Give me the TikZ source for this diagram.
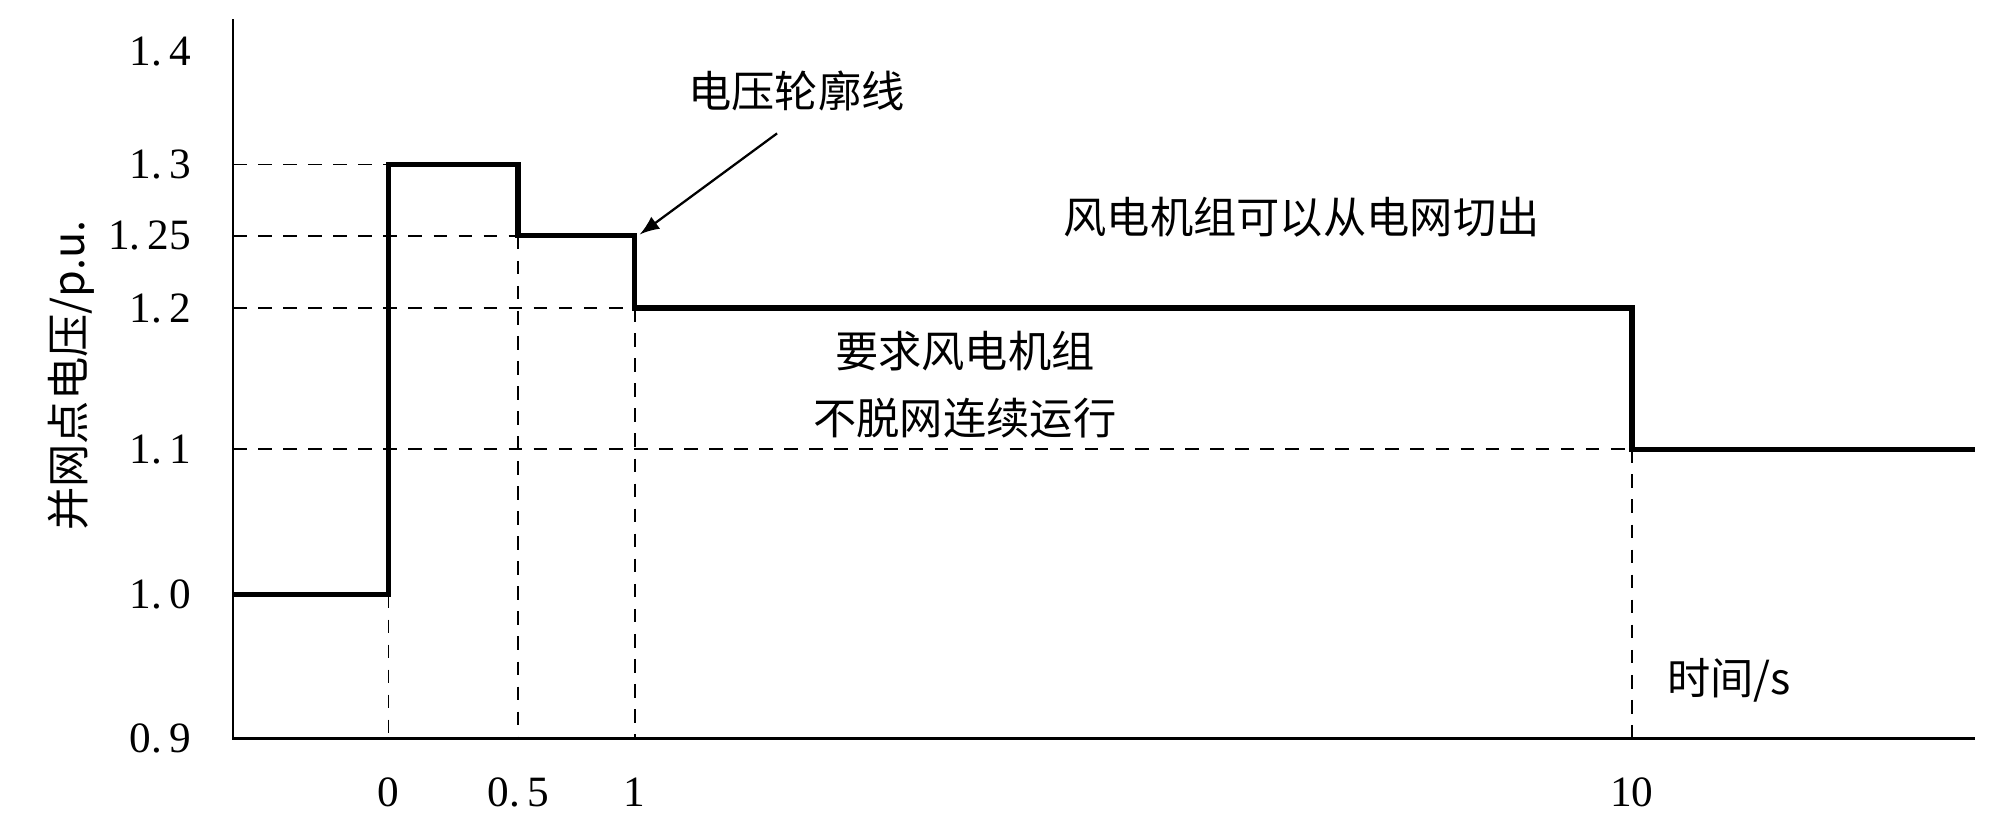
\documentclass[tikz,border=0pt]{standalone}
\usepackage{fontspec}
\setmainfont{Liberation Serif}
\newfontfamily\cjk{Noto Sans CJK SC}
\usetikzlibrary{positioning}
\tikzset{
  grid line/.style={black, dashed, dash pattern=on 3pt off 2.5pt, line width=0.4pt},
  curve line/.style={black, line width=1.2pt},
  tick label/.style={font=\fontsize{9.5}{10}\selectfont, anchor=east},
  cn label/.style={font=\cjk\fontsize{9.5}{11}\selectfont, align=center}
}
\begin{document}
\begin{tikzpicture}[x={(0.01cm,0)}, y={(0,-0.01cm)}]
          \useasboundingbox (0,0) rectangle (1552,634);
          \coordinate (O) at (180,570);
          \coordinate (T) at (180,15);
          \coordinate (E) at (1525,570);

          % dashed guide lines
          \draw[grid line] (180,127) -- (300,127);
          \draw[grid line] (180,182) -- (400,182);
          \draw[grid line] (180,238) -- (490,238);
          \draw[grid line] (180,347) -- (1260,347);
          \draw[grid line] (300,459) -- (300,570);
          \draw[grid line] (400,182) -- (400,570);
          \draw[grid line] (490,238) -- (490,570);
          \draw[grid line] (1260,347) -- (1260,570);

          % axes
          \draw[line width=0.6pt] (T) -- (O) -- (E);

          % voltage profile
          \draw[curve line] (180,459) -- (300,459) -- (300,127) -- (400,127)
            -- (400,182) -- (490,182) -- (490,238) -- (1260,238)
            -- (1260,347) -- (1525,347);

          % y ticks
          \node[tick label] (y14) at (160,40) {1.\,4};
          \node[tick label] (y13) at (160,127) {1.\,3};
          \node[tick label] (y125) at (160,182) {1.\,25};
          \node[tick label] (y12) at (160,238) {1.\,2};
          \node[tick label] (y11) at (160,347) {1.\,1};
          \node[tick label] (y10) at (160,459) {1.\,0};
          \node[tick label] (y09) at (160,570) {0.\,9};

          % x ticks
          \node[tick label, anchor=center] (x0) at (300,612) {0};
          \node[tick label, anchor=center] (x05) at (400,612) {0.\,5};
          \node[tick label, anchor=center] (x1) at (490,612) {1};
          \node[tick label, anchor=center] (x10) at (1260,612) {10};

          \node[cn label, rotate=90] (ylab) at (55,290) {并网点电压/p.u.};
          \node[cn label] (tlab) at (1335,525) {时间/s};

          \node[cn label] (profile) at (615,70) {电压轮廓线};
          \coordinate (tip) at (494,181);
          \draw[-latex, line width=0.5pt] (600,103) -- (tip);

          \node[cn label] (trip) at (1005,168) {风电机组可以从电网切出};
          \node[cn label, font=\cjk\fontsize{9.5}{14.5}\selectfont] (keep) at (745,297) {要求风电机组\\不脱网连续运行};
\end{tikzpicture}
\end{document}
